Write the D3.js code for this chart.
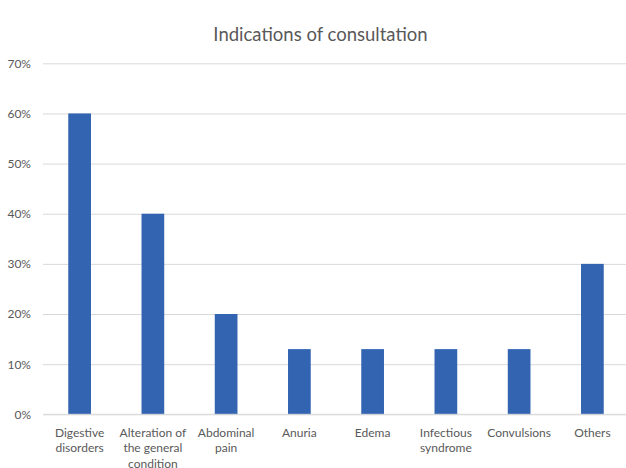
<!DOCTYPE html>
<html><head><meta charset="utf-8">
<script src="https://cdn.jsdelivr.net/npm/d3@7"></script>
<style>
body{margin:0;background:#fff;}
text{font-family:Lato,"Open Sans",sans-serif;fill:#595959;}
</style></head>
<body><svg id="c" width="626" height="468"></svg>
<script>
const title = "Indications of consultation";
const categories = ["Digestive\ndisorders","Alteration of\nthe general\ncondition","Abdominal\npain","Anuria","Edema","Infectious\nsyndrome","Convulsions","Others"];
const values = [0.60,0.40,0.20,0.13,0.13,0.13,0.13,0.30];
const yTicks = [0,0.1,0.2,0.3,0.4,0.5,0.6,0.7];

const svg = d3.select("#c");
const x = d3.scaleBand().domain(categories).range([43,629]).paddingInner(0.69).paddingOuter(0.345);
const y = d3.scaleLinear().domain([0,0.7]).range([414.3,63.3]);

svg.append("text").attr("x",320.5).attr("y",40.5).attr("text-anchor","middle")
  .style("font-size","18.5px").text(title);

const ya = svg.append("g").attr("transform","translate(43,0)")
  .call(d3.axisLeft(y).tickValues(yTicks).tickFormat(d3.format(".0%")).tickSize(-586).tickPadding(12));
ya.select(".domain").remove();
ya.selectAll(".tick line").attr("stroke","#d9d9d9").attr("stroke-width",1);
ya.selectAll(".tick text").style("font-size","12px").style("font-family","Lato,'Open Sans',sans-serif").attr("fill","#595959");

svg.append("g").selectAll("rect").data(values).join("rect")
  .attr("x",(d,i)=>x(categories[i])).attr("width",x.bandwidth())
  .attr("y",d=>y(d)).attr("height",d=>y(0)-y(d)).attr("fill","#3264b1");

// baseline
svg.append("line").attr("x1",43).attr("x2",629).attr("y1",y(0)).attr("y2",y(0)).attr("stroke","#d9d9d9");

const lab = svg.append("g").selectAll("text").data(categories).join("text")
  .attr("text-anchor","middle").style("font-size","12px")
  .attr("x",d=>x(d)+x.bandwidth()/2).attr("y",436.5);
lab.each(function(d){
  const t=d3.select(this);
  d.split("\n").forEach((s,i)=>t.append("tspan").attr("x",t.attr("x")).attr("dy",i?15.8:0).text(s));
});
</script></body></html>
